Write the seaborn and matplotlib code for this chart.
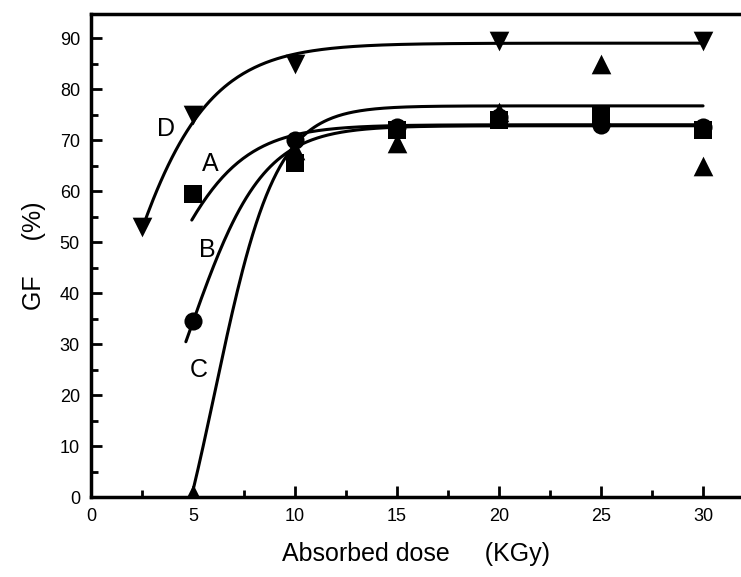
import numpy as np
import pandas as pd
import matplotlib
matplotlib.use("Agg")
import matplotlib.pyplot as plt
import seaborn as sns
from matplotlib.ticker import MultipleLocator

# ---- data ----
dose_A = [5, 10, 15, 20, 25, 30]
gf_A = [59.5, 65.5, 72.0, 74.0, 75.0, 72.0]          # squares
dose_B = [5, 10, 15, 20, 25, 30]
gf_B = [34.5, 70.0, 72.5, 74.5, 73.0, 72.5]          # circles
dose_C = [5, 10, 15, 20, 25, 30]
gf_C = [0.5, 68.0, 69.5, 75.5, 85.0, 65.0]           # up triangles
dose_D = [2.5, 5, 10, 20, 30]
gf_D = [53.0, 75.0, 85.0, 89.5, 89.5]                # down triangles

# fitted Boltzmann curves: (A1, A2, x0, dx, x_start, x_end)
curve_names = ["A", "B", "C", "D"]
fit_A1 = [5.0, -8.3, -35.8, -50.8]
fit_A2 = [73.0, 72.8, 76.7, 89.0]
fit_x0 = [3.0, 4.81, 6.063, 0.0]
fit_dx = [2.0, 1.8, 1.5, 2.4]
fit_xstart = [4.94, 4.65, 5.0, 2.5]
fit_xend = [30, 30, 30, 30]

label_text = ["D", "A", "B", "C"]
label_x = [3.67, 5.87, 5.71, 5.30]
label_y = [72.1, 65.4, 48.4, 24.9]

# ---- figure ----
sns.set_theme(style="ticks")
plt.rcParams["font.family"] = ["Liberation Sans", "DejaVu Sans"]
plt.rcParams["text.color"] = "black"
plt.rcParams["axes.labelcolor"] = "black"

fig = plt.figure(figsize=(7.41, 5.77), dpi=100)
ax = fig.add_axes([0.1228, 0.1386, 0.8772, 0.837])

rows = []
for name, a1, a2, x0, dx, xs, xe in zip(curve_names, fit_A1, fit_A2, fit_x0,
                                        fit_dx, fit_xstart, fit_xend):
    xx = np.linspace(xs, xe, 300)
    yy = a2 + (a1 - a2) / (1 + np.exp((xx - x0) / dx))
    rows.append(pd.DataFrame({"x": xx, "y": yy, "curve": name}))
curves = pd.concat(rows, ignore_index=True)
sns.lineplot(data=curves, x="x", y="y", units="curve", estimator=None,
             color="black", linewidth=2.2, ax=ax, sort=False)

pts = [(dose_A, gf_A, "s", 150), (dose_B, gf_B, "o", 170),
       (dose_C, gf_C, "^", 200), (dose_D, gf_D, "v", 200)]
for xs, ys, m, s in pts:
    sns.scatterplot(x=xs, y=ys, marker=m, s=s, color="black",
                    edgecolor="black", linewidth=0, ax=ax, zorder=5)

for t, x, y in zip(label_text, label_x, label_y):
    ax.text(x, y, t, fontsize=18, ha="center", va="center", color="black")

ax.set_xlim(0, 31.86)
ax.set_ylim(0, 94.7)
ax.xaxis.set_major_locator(MultipleLocator(5))
ax.xaxis.set_minor_locator(MultipleLocator(2.5))
ax.yaxis.set_major_locator(MultipleLocator(10))
ax.yaxis.set_minor_locator(MultipleLocator(5))
ax.tick_params(which="both", direction="in", width=2, color="black",
               labelsize=13, labelcolor="black")
ax.tick_params(which="major", length=8, pad=8)
ax.tick_params(which="minor", length=5)
for sp in ax.spines.values():
    sp.set_linewidth(2.5)
    sp.set_color("black")
ax.spines["right"].set_visible(False)

ax.set_xlabel("Absorbed dose     (KGy)", fontsize=18, labelpad=12)
ax.set_ylabel("GF     (%)", fontsize=18, labelpad=10)

fig.savefig("out.png", dpi=100)
